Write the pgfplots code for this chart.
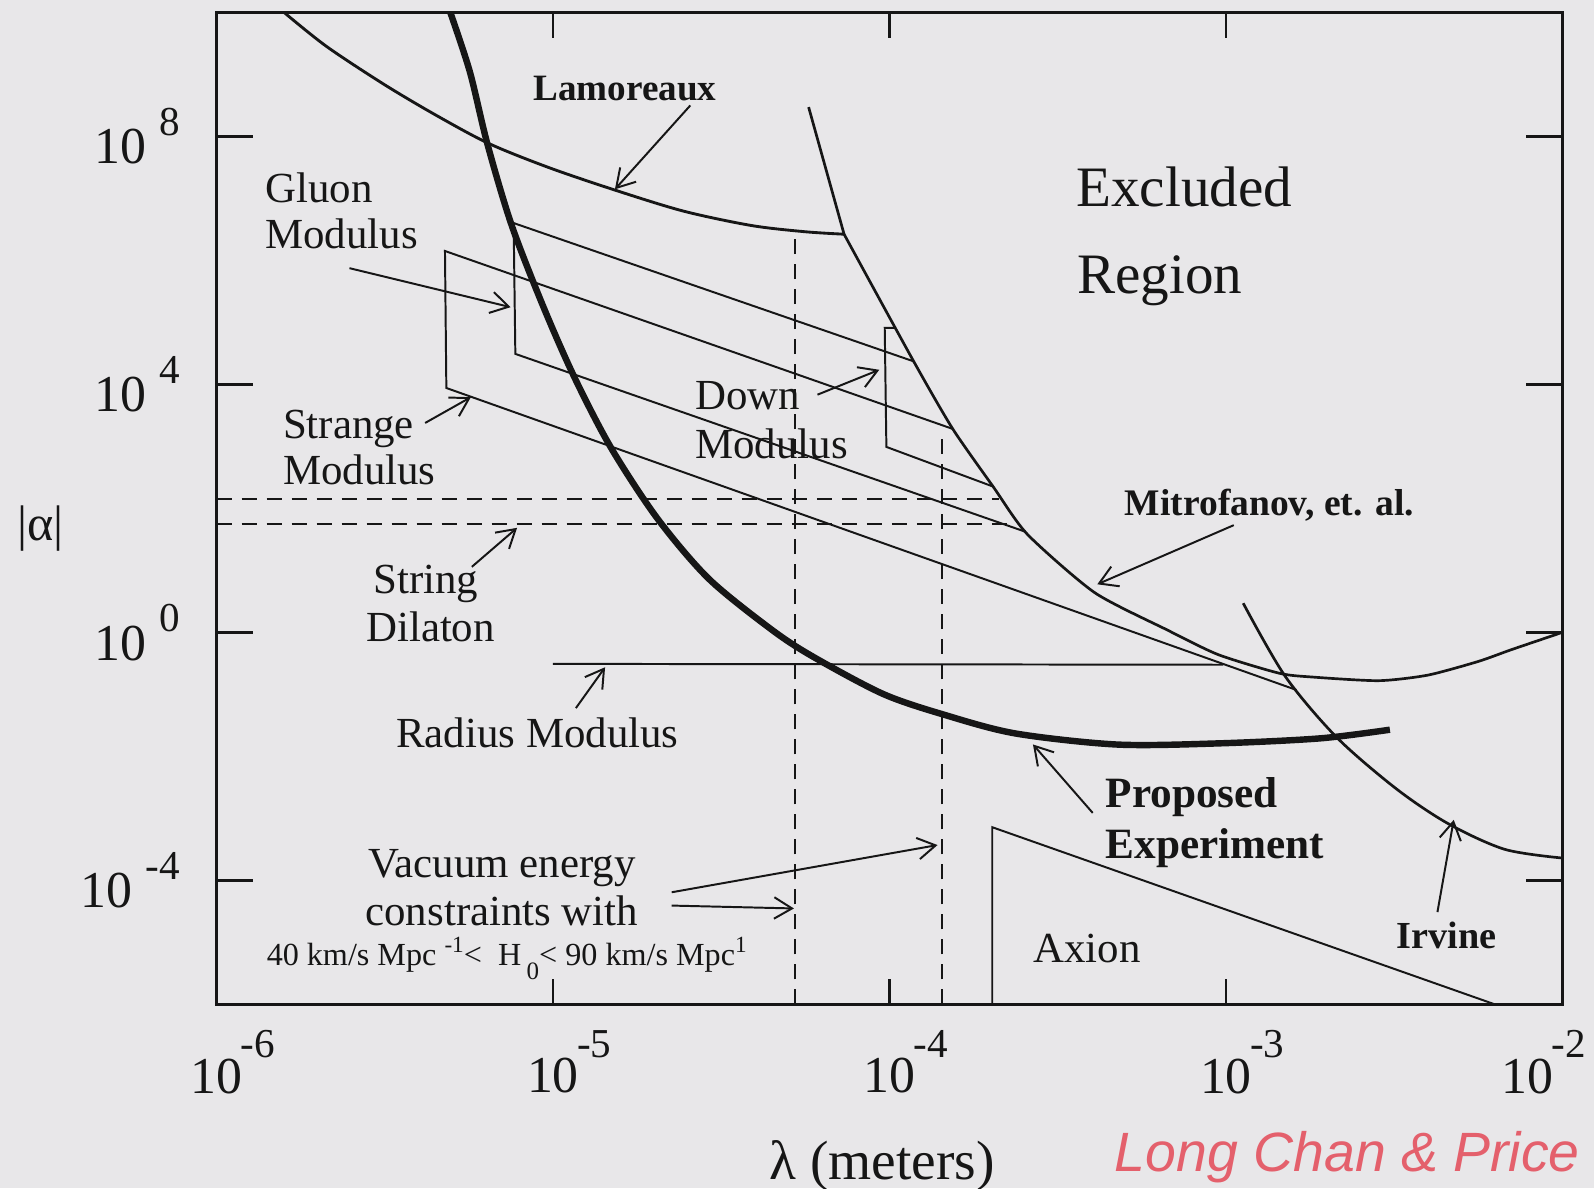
\documentclass[border=0pt]{standalone}
\usepackage{fontspec}
\setmainfont{Liberation Serif}
\newfontfamily\handfont{Liberation Sans}
\usepackage{pgfplots}
\pgfplotsset{compat=1.18}
\usetikzlibrary{arrows.meta}

\definecolor{paper}{RGB}{232,231,233}
\definecolor{ink}{RGB}{22,22,22}
\definecolor{pen}{RGB}{228,96,108}

% tick labels: "10" centred on the tick, exponent raised to its right
\newcommand\xsup[1]{\raisebox{10pt}{\fontsize{11.5}{12}\selectfont #1}}
\newcommand\xl[1]{\makebox[0pt][c]{10}\makebox[0pt][l]{\kern6.75pt\xsup{#1}}}
\newcommand\xlast[1]{\hspace{13pt}\makebox[0pt][r]{10\kern-0.5pt\xsup{#1}}}
\newcommand\yl[1]{10\kern3.7pt\raisebox{8pt}{\fontsize{11.5}{12}\selectfont #1}}

\tikzset{lab/.style={text=ink, inner sep=0pt},
         ann/.style={draw=ink, line width=0.55pt, -{Straight Barb[length=5pt,width=6pt]}}}

\begin{document}
\begin{tikzpicture}[x=1cm,y=1cm]
\path[use as bounding box, fill=paper] (-2.13,-1.81) rectangle (13.55,9.88);
\begin{axis}[
  at={(0,0)}, anchor=south west,
  scale only axis, width=13.24cm, height=9.76cm,
  xmode=log, ymode=log,
  xmin=1e-6, xmax=1e-2, ymin=1e-6, ymax=1e10,
  axis line style={ink, line width=0.9pt},
  tick style={ink, line width=0.8pt},
  major tick length=0.25cm, minor tick length=0.18cm,
  xtick={1e-6,1e-5,1e-4,1e-3,1e-2},
  xticklabels={\xl{-6},\xl{-5},\xl{-4},\xl{-3},\xlast{-2}},
  xminorticks=false,
  ytick=\empty,
  minor ytick={1e-5,1e-3,1e-2,1e-1,1e1,1e2,1e3,1e5,1e6,1e7,1e9},
  extra y ticks={1e-4,1,1e4,1e8},
  extra y tick labels={\yl{-4},\yl{0},\yl{4},\yl{8}},
  extra y tick style={major tick length=0.36cm},
  xticklabel style={font=\fontsize{14.5}{15}\selectfont, text=ink, anchor=north, inner sep=0pt, yshift=-7pt},
  yticklabel style={font=\fontsize{14.5}{15}\selectfont, text=ink, anchor=east, inner sep=0pt, xshift=-10pt},
  clip mode=individual,
]

% Lamoreaux
\addplot[ink, line width=0.8pt, smooth, tension=0.5] coordinates {
  (1.585e-6,1e10) (2.12e-6,2.82e9) (3.16e-6,6.76e8) (4.52e-6,2.14e8)
  (6.46e-6,7.59e7) (9.77e-6,3.09e7) (1.55e-5,1.32e7) (2.45e-5,6.17e6)
  (3.89e-5,3.63e6) (5.62e-5,2.88e6) (7.33e-5,2.63e6)};

% Proposed experiment
\addplot[ink, line width=1.8pt, smooth, tension=0.5] coordinates {
  (4.95e-6,1e10) (5.66e-6,1.1e9) (6.38e-6,7.59e7) (7.53e-6,3.72e6)
  (9.33e-6,1.86e5) (1.156e-5,1.32e4) (1.486e-5,955) (2.04e-5,69.2)
  (2.90e-5,7.35) (4.43e-5,1.14) (5.87e-5,0.417) (9.55e-5,0.102)
  (1.455e-4,0.0468) (2.366e-4,0.0234) (4.75e-4,0.0155) (9.55e-4,0.0162)
  (1.905e-3,0.0195) (3.07e-3,0.0269)};

% Mitrofanov et al.
\addplot[ink, line width=0.75pt] coordinates {(5.75e-5,2.95e8) (7.33e-5,2.63e6)};
\addplot[ink, line width=0.75pt, smooth, tension=0.4] coordinates {
  (7.33e-5,2.63e6) (1.180e-4,2.34e4) (1.542e-4,1905) (2.032e-4,224)
  (2.57e-4,38.0) (4.07e-4,4.37) (6.67e-4,1.10) (9.48e-4,0.437)
  (1.439e-3,0.219) (1.795e-3,0.1905) (2.84e-3,0.166) (3.98e-3,0.204)
  (5.62e-3,0.339) (7.05e-3,0.525) (1e-2,1.0)};

% Irvine
\addplot[ink, line width=0.75pt, smooth, tension=0.5] coordinates {
  (1.125e-3,2.95) (1.50e-3,0.195) (2.138e-3,0.02) (3.22e-3,2.95e-3)
  (4.59e-3,8.13e-4) (6.745e-3,3.16e-4) (1e-2,2.29e-4)};

% strange, gluon and down moduli
\addplot[ink, line width=0.55pt] coordinates {
  (1.542e-4,1905) (4.775e-6,1.41e6) (4.82e-6,8710) (1.62e-3,0.1175)};
\addplot[ink, line width=0.55pt] coordinates {
  (1.180e-4,2.34e4) (7.64e-6,3.98e6) (7.73e-6,3.09e4) (2.54e-4,41.7)};
\addplot[ink, line width=0.55pt] coordinates {
  (1.042e-4,8.13e4) (9.68e-5,8.13e4) (9.79e-5,977) (2.032e-4,224)};

% radius modulus
\addplot[ink, line width=0.55pt] coordinates {(1e-5,0.31) (9.8e-4,0.30)};

% axion
\addplot[ink, line width=0.55pt] coordinates {(2.02e-4,1e-6) (2.02e-4,7.2e-4) (6.3e-3,1e-6)};

% string dilaton band and vacuum energy bounds
\addplot[ink, line width=0.6pt, dash pattern=on 4.2pt off 2.8pt] coordinates {(1e-6,141) (2.11e-4,141)};
\addplot[ink, line width=0.6pt, dash pattern=on 4.2pt off 2.8pt] coordinates {(1e-6,55) (2.37e-4,55)};
\addplot[ink, line width=0.6pt, dash pattern=on 4.2pt off 2.8pt] coordinates {(5.24e-5,1e-6) (5.24e-5,2.3e6)};
\addplot[ink, line width=0.6pt, dash pattern=on 4.2pt off 2.8pt] coordinates {(1.43e-4,1e-6) (1.43e-4,1585)};

% labels and pointers
\node[lab, font=\bfseries\fontsize{10.4}{12}\selectfont] at (rel axis cs:0.3034,0.923) {Lamoreaux};
\draw[ann] (rel axis cs:0.352,0.906) -- (rel axis cs:0.296,0.8215);

\node[lab, anchor=west, align=left, font=\fontsize{12}{13}\selectfont] at (rel axis cs:0.0357,0.7997) {Gluon\\Modulus};
\draw[ann] (rel axis cs:0.0988,0.742) -- (rel axis cs:0.2185,0.7027);

\node[lab, anchor=west, align=left, font=\fontsize{12}{13}\selectfont] at (rel axis cs:0.0489,0.561) {Strange\\Modulus};
\draw[ann] (rel axis cs:0.155,0.586) -- (rel axis cs:0.189,0.612);

\node[lab, anchor=west, align=left, font=\fontsize{12}{13.3}\selectfont] at (rel axis cs:0.1107,0.4041) {\hspace{2pt}String\\Dilaton};
\draw[ann] (rel axis cs:0.1897,0.441) -- (rel axis cs:0.2233,0.4803);

\node[lab, font=\fontsize{12}{13}\selectfont] at (rel axis cs:0.2384,0.2736) {Radius Modulus};
\draw[ann] (rel axis cs:0.267,0.2986) -- (rel axis cs:0.2887,0.3398);

\node[lab, anchor=west, align=left, font=\fontsize{12}{13.6}\selectfont] at (rel axis cs:0.3553,0.5888) {Down\\Modulus};
\draw[ann] (rel axis cs:0.4465,0.6145) -- (rel axis cs:0.4924,0.6396);

\node[lab, anchor=west, font=\fontsize{16}{17}\selectfont] at (rel axis cs:0.6384,0.824) {Excluded};
\node[lab, anchor=west, font=\fontsize{16}{17}\selectfont] at (rel axis cs:0.6391,0.729) {Region};

\node[lab, font=\bfseries\fontsize{10.5}{12}\selectfont] at (rel axis cs:0.7823,0.503) {Mitrofanov, et. al.};
\draw[ann] (rel axis cs:0.7558,0.483) -- (rel axis cs:0.6544,0.4234);

\node[lab, anchor=west, align=left, font=\bfseries\fontsize{12.1}{14.2}\selectfont] at (rel axis cs:0.6601,0.183) {Proposed\\Experiment};
\draw[ann] (rel axis cs:0.651,0.193) -- (rel axis cs:0.6066,0.262);

\node[lab, font=\fontsize{12}{13}\selectfont] at (rel axis cs:0.6468,0.056) {Axion};

\node[lab, font=\bfseries\fontsize{10.7}{12}\selectfont] at (rel axis cs:0.914,0.070) {Irvine};
\draw[ann] (rel axis cs:0.9071,0.093) -- (rel axis cs:0.9192,0.186);

\node[lab, align=center, font=\fontsize{12}{13.3}\selectfont] at (rel axis cs:0.212,0.1176) {Vacuum energy\\constraints with};
\node[lab, font=\fontsize{9}{10}\selectfont] at (rel axis cs:0.2156,0.046)
  {40 km/s Mpc \raisebox{3.5pt}{\fontsize{6.5}{7}\selectfont -1}<\ \ H\,\raisebox{-4pt}{\fontsize{7}{7}\selectfont 0}< 90 km/s Mpc\raisebox{3.5pt}{\fontsize{6.5}{7}\selectfont 1}};
\draw[ann] (rel axis cs:0.3382,0.113) -- (rel axis cs:0.5357,0.1606);
\draw[ann] (rel axis cs:0.3382,0.0996) -- (rel axis cs:0.429,0.0967);

% axis titles
\node[lab, font=\fontsize{14}{15}\selectfont] at (rel axis cs:0,0.4795) [xshift=-1.73cm] {|α|};
\node[lab, font=\fontsize{15.5}{16}\selectfont] at (rel axis cs:0.4947,0) [yshift=-1.59cm] {λ (meters)};

% marginal note
\node[anchor=base west, inner sep=0pt, text=pen, font=\handfont\itshape\fontsize{15.5}{16}\selectfont]
  at (rel axis cs:0.667,0) [yshift=-1.64cm] {Long Chan \& Price};
\end{axis}
\end{tikzpicture}
\end{document}
